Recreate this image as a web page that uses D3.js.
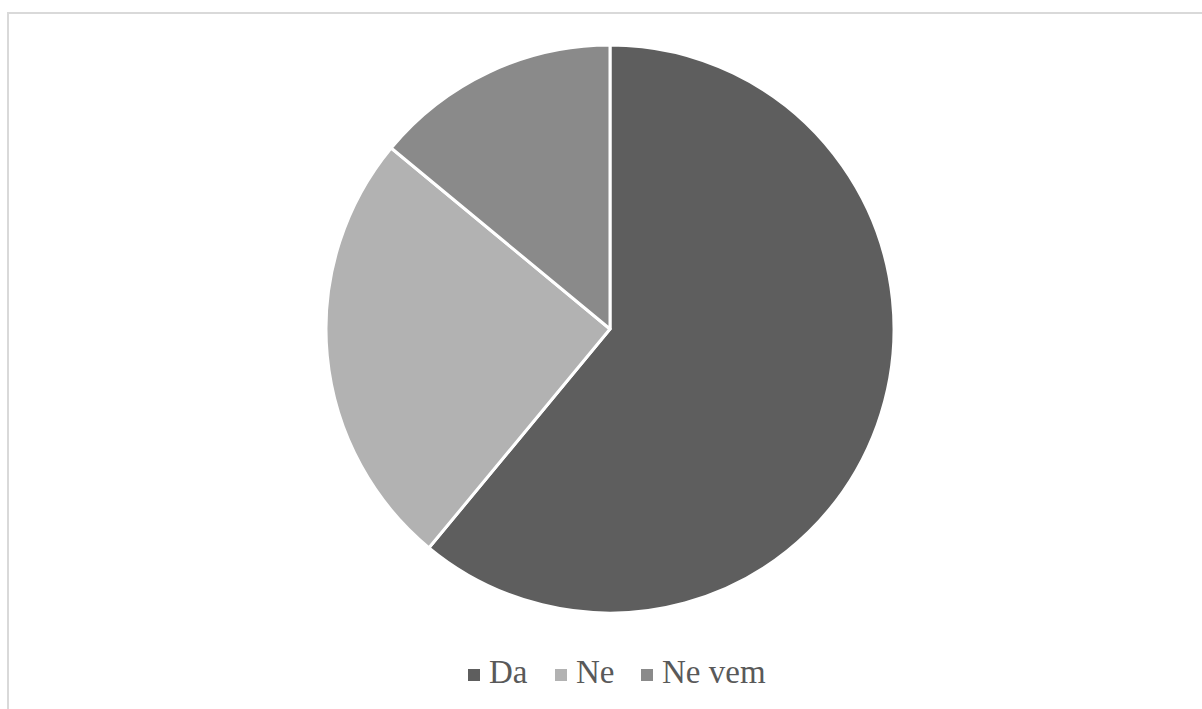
<!DOCTYPE html>
<html>
<head>
<meta charset="utf-8">
<script src="https://cdn.jsdelivr.net/npm/d3@7"></script>
<style>
  html, body { margin: 0; padding: 0; background: #fff; }
  svg { display: block; }
  .legend-label { font-family: "Liberation Serif", "Times New Roman", Times, "DejaVu Serif", serif; font-size: 33px; fill: #595959; }
</style>
</head>
<body>
<svg id="chart" width="1202" height="709"></svg>
<script>
// Survey answers (percent)
const categories = ["Da", "Ne", "Ne vem"];
const values = [61, 25, 14];
const colors = ["#5e5e5e", "#b2b2b2", "#8a8a8a"];

const svg = d3.select("#chart");
const W = 1202, H = 709;

// chart area frame
svg.append("rect")
  .attr("x", 8).attr("y", 13)
  .attr("width", W + 10).attr("height", H + 10)
  .attr("fill", "#fff")
  .attr("stroke", "#d9d9d9")
  .attr("stroke-width", 2);

const cx = 610, cy = 329, r = 284;

const pie = d3.pie().sort(null).value(d => d.value);
const arc = d3.arc().innerRadius(0).outerRadius(r);
const color = d3.scaleOrdinal().domain(categories).range(colors);

const data = categories.map((c, i) => ({ name: c, value: values[i] }));

svg.append("g")
  .attr("transform", `translate(${cx},${cy})`)
  .selectAll("path")
  .data(pie(data))
  .join("path")
  .attr("d", arc)
  .attr("fill", d => color(d.data.name))
  .attr("stroke", "#fff")
  .attr("stroke-width", 3)
  .attr("stroke-linejoin", "round");

// legend
const legendX = [468, 555, 641];
const legend = svg.append("g");
categories.forEach((c, i) => {
  legend.append("rect")
    .attr("x", legendX[i]).attr("y", 669)
    .attr("width", 12).attr("height", 12)
    .attr("fill", color(c));
  legend.append("text")
    .attr("class", "legend-label")
    .attr("x", legendX[i] + 21).attr("y", 683)
    .text(c);
});
</script>
</body>
</html>
